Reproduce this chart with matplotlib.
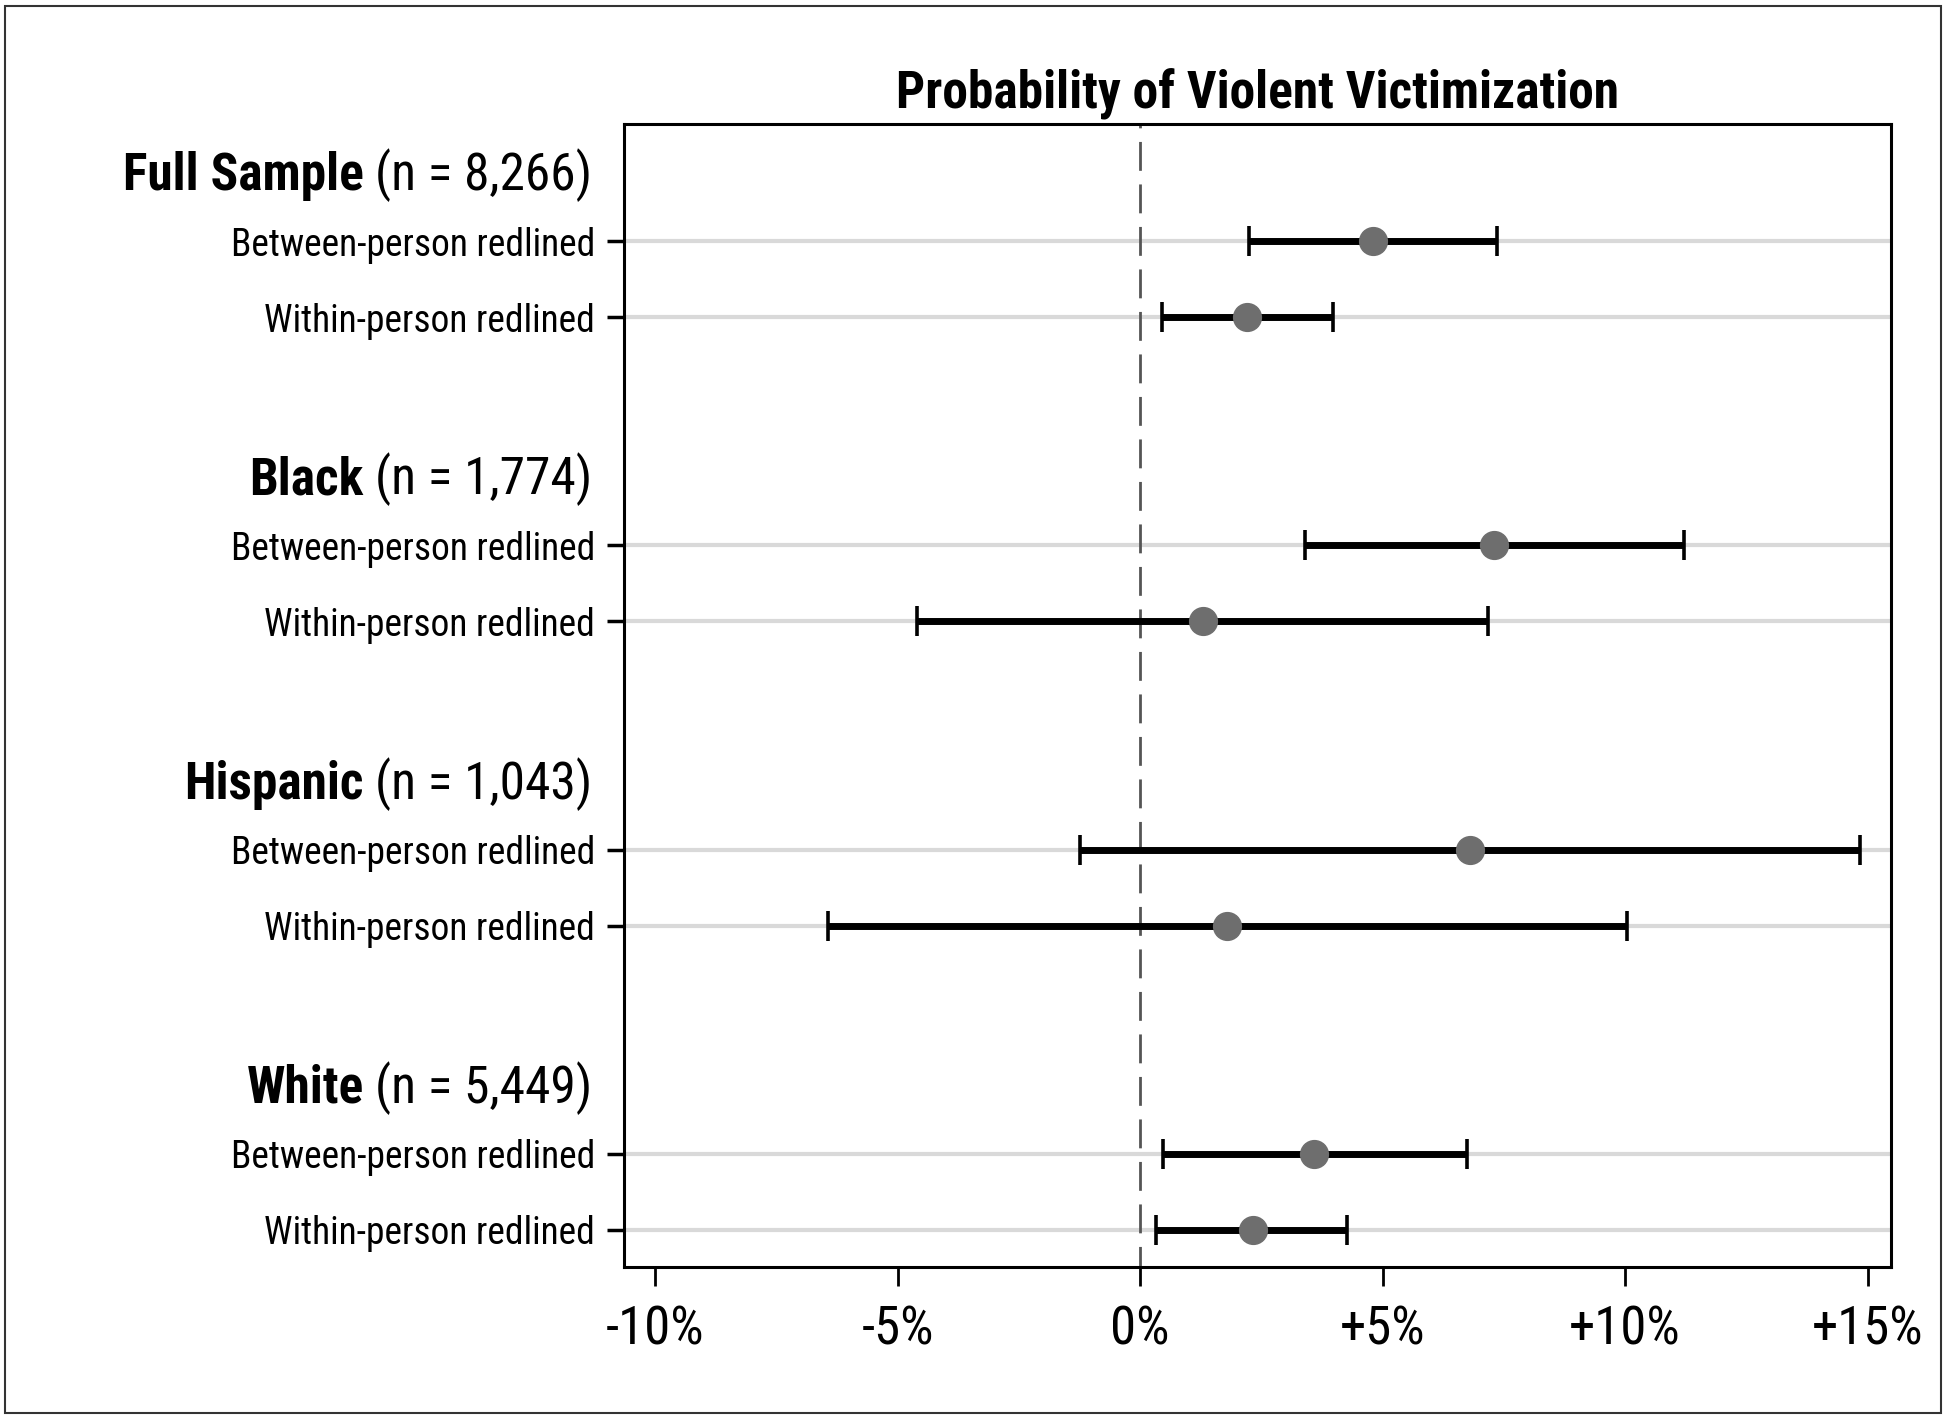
import matplotlib
matplotlib.use("Agg")
import matplotlib.pyplot as plt
from matplotlib import transforms, font_manager
from matplotlib.patches import Rectangle

# ---- data ----
groups = ["Full Sample", "Black", "Hispanic", "White"]
group_n = ["(n = 8,266)", "(n = 1,774)", "(n = 1,043)", "(n = 5,449)"]
row_labels = ["Between-person redlined", "Within-person redlined"]
estimate = [4.81, 2.20, 7.30, 1.29, 6.80, 1.80, 3.59, 2.32]
ci_low = [2.25, 0.45, 3.40, -4.59, -1.24, -6.44, 0.48, 0.33]
ci_high = [7.35, 3.97, 11.21, 7.18, 14.84, 10.03, 6.73, 4.26]
xticks = [-10, -5, 0, 5, 10, 15]
xtick_labels = ["-10%", "-5%", "0%", "+5%", "+10%", "+15%"]
title = "Probability of Violent Victimization"

# ---- pick a condensed sans font if one is installed ----
ttf = font_manager.fontManager.ttflist
names = {f.name for f in ttf}
family, stretch, narrow = "Liberation Sans", "normal", False
for cand in ["Liberation Sans Narrow", "Arial Narrow", "Roboto Condensed",
             "DejaVu Sans Condensed", "Open Sans Condensed", "Noto Sans Condensed"]:
    if cand in names:
        family, narrow = cand, True
        break
if not narrow:
    for f in ttf:
        fn = f.fname.lower()
        if (("condensed" in fn or "narrow" in fn) and "mono" not in fn
                and "serif" not in fn and "sans" in (f.name + fn).lower()):
            family, narrow = f.name, True
            if f.stretch not in ("normal", 500):
                stretch = "condensed"
            break

k = 1.0 if narrow else 0.88
FS_TITLE, FS_HEAD, FS_ROW, FS_TICK = 37 * k, 37 * k, 27 * k, 38 * k

plt.rcParams["font.family"] = [family, "Liberation Sans", "DejaVu Sans"]
plt.rcParams["font.stretch"] = stretch

fig = plt.figure(figsize=(19.5, 14.21), dpi=100)
ax = fig.add_axes([0.32, 0.1084, 0.6497, 0.8043])

positions = []
for g in range(len(groups)):
    for r in range(len(row_labels)):
        positions.append(4 * g + r)

xerr = [[e - l for e, l in zip(estimate, ci_low)],
        [h - e for e, h in zip(estimate, ci_high)]]

ax.errorbar(estimate, positions, xerr=xerr, fmt="o", color="#6e6e6e",
            markersize=20, ecolor="black", elinewidth=5,
            capsize=11, capthick=2.6, zorder=3)

ax.axvline(0, color="#555555", lw=2, linestyle=(3, (10.4, 4.9)), zorder=2)

ax.set_xlim(-10.64, 15.48)
ax.set_ylim(13.486, -1.538)

ax.set_xticks(xticks)
ax.set_xticklabels(xtick_labels)
ax.set_yticks(positions)
ax.set_yticklabels(row_labels * len(groups))
ax.yaxis.grid(True, color="#d9d9d9", lw=3)
ax.set_axisbelow(True)

ax.tick_params(axis="x", length=14, width=2, labelsize=FS_TICK, pad=13)
ax.tick_params(axis="y", length=12, width=2.5, labelsize=FS_ROW, pad=9)
for s in ax.spines.values():
    s.set_linewidth(2.2)
    s.set_color("black")

ax.set_title(title, fontsize=FS_TITLE, fontweight="bold", pad=11)

# group headings: bold name + regular n
fig.canvas.draw()
renderer = fig.canvas.get_renderer()
trans = transforms.blended_transform_factory(ax.transAxes, ax.transData)
xh = -0.02526
for g in range(len(groups)):
    yh = 4 * g - 0.67
    t2 = ax.text(xh, yh, group_n[g], transform=trans, ha="right",
                 va="baseline", fontsize=FS_HEAD, clip_on=False)
    bb = t2.get_window_extent(renderer=renderer)
    off = transforms.offset_copy(trans, fig=fig, x=-(bb.width + 11), y=0,
                                 units="dots")
    ax.text(xh, yh, groups[g], transform=off, ha="right", va="baseline",
            fontsize=FS_HEAD, fontweight="bold", clip_on=False)

fig.patches.append(Rectangle((0.0026, 0.0056), 0.9928, 0.9902,
                             transform=fig.transFigure, fill=False,
                             edgecolor="#333333", lw=1.5))

fig.savefig("out.png", dpi=100)
